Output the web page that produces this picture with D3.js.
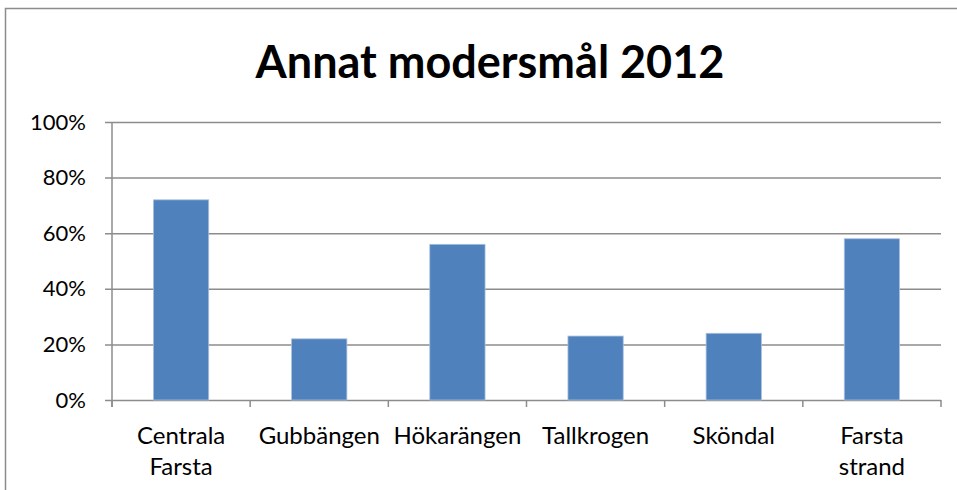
<!DOCTYPE html>
<html>
<head>
<meta charset="utf-8">
<script src="https://cdn.jsdelivr.net/npm/d3@7"></script>
<style>
  body { margin: 0; background: #fff; }
  text { font-family: Lato, 'Open Sans', sans-serif; fill: #000; }
</style>
</head>
<body>
<svg id="chart"></svg>
<script>
const categories = ['Centrala Farsta', 'Gubbängen', 'Hökarängen', 'Tallkrogen', 'Sköndal', 'Farsta strand']
const values = [0.72, 0.22, 0.56, 0.23, 0.24, 0.58]
const yTicks = [0, 0.2, 0.4, 0.6, 0.8, 1.0]
const title = 'Annat modersmål 2012'

const W = 957
const H = 490
const margin = { top: 122, left: 112, right: 16, bottom: 90 }
const width = W - margin.left - margin.right
const height = H - margin.top - margin.bottom

const svg = d3.select('#chart').attr('width', W).attr('height', H)

// outer chart border
svg.append('rect')
  .attr('x', 5.5).attr('y', 8.5)
  .attr('width', W + 20).attr('height', H + 20)
  .attr('fill', '#fff')
  .attr('stroke', '#8c8c8c')
  .attr('stroke-width', 1.5)

const g = svg.append('g').attr('transform', 'translate(' + margin.left + ',' + margin.top + ')')

/// scales
const xScale = d3.scaleBand().domain(categories).range([0, width]).paddingInner(0.6).paddingOuter(0.3)
const yScale = d3.scaleLinear().domain([0, 1]).range([height, 0])
const pct = d3.format('.0%')

// gridlines + y axis
const yAxis = g.append('g')
  .call(d3.axisLeft(yScale).tickValues(yTicks).tickFormat(pct).tickSizeInner(-width).tickSizeOuter(0))
yAxis.select('.domain').remove()
yAxis.selectAll('.tick line').attr('stroke', '#8c8c8c').attr('stroke-width', 1.5).attr('x1', -7)
yAxis.selectAll('.tick text')
  .attr('font-size', 22)
  .attr('font-family', "Lato, 'Open Sans', sans-serif")
  .attr('fill', '#000')
  .attr('x', -26)

// bars
g.selectAll('.bar')
  .data(values)
  .enter()
  .append('rect')
  .attr('class', 'bar')
  .attr('x', (d, i) => xScale(categories[i]))
  .attr('width', xScale.bandwidth())
  .attr('y', d => yScale(d))
  .attr('height', d => yScale(0) - yScale(d))
  .attr('fill', '#4f81bd')
  .attr('stroke', '#a9c0dd')
  .attr('stroke-width', 0.8)

// vertical axis line
g.append('line')
  .attr('x1', 0).attr('x2', 0)
  .attr('y1', 0).attr('y2', height + 7)
  .attr('stroke', '#8c8c8c').attr('stroke-width', 1.5)

// category boundary ticks
const step = xScale.step()
g.selectAll('.xtick')
  .data(d3.range(categories.length + 1))
  .enter()
  .append('line')
  .attr('x1', i => i * step).attr('x2', i => i * step)
  .attr('y1', height).attr('y2', height + 7)
  .attr('stroke', '#8c8c8c').attr('stroke-width', 1.5)

// category labels
const labels = g.selectAll('.catLabel')
  .data(categories)
  .enter()
  .append('text')
  .attr('class', 'catLabel')
  .attr('text-anchor', 'middle')
  .attr('font-size', 24)
  .attr('transform', d => 'translate(' + (xScale(d) + xScale.bandwidth() / 2) + ',' + (height + 44) + ')')

labels.selectAll('tspan')
  .data(d => d.split(' '))
  .enter()
  .append('tspan')
  .attr('x', 0)
  .attr('dy', (d, i) => (i === 0 ? 0 : 31))
  .text(d => d)

// headline
svg.append('text')
  .attr('x', 490)
  .attr('y', 78)
  .attr('text-anchor', 'middle')
  .attr('font-size', 45)
  .attr('font-weight', 'bold')
  .text(title)
</script>
</body>
</html>
